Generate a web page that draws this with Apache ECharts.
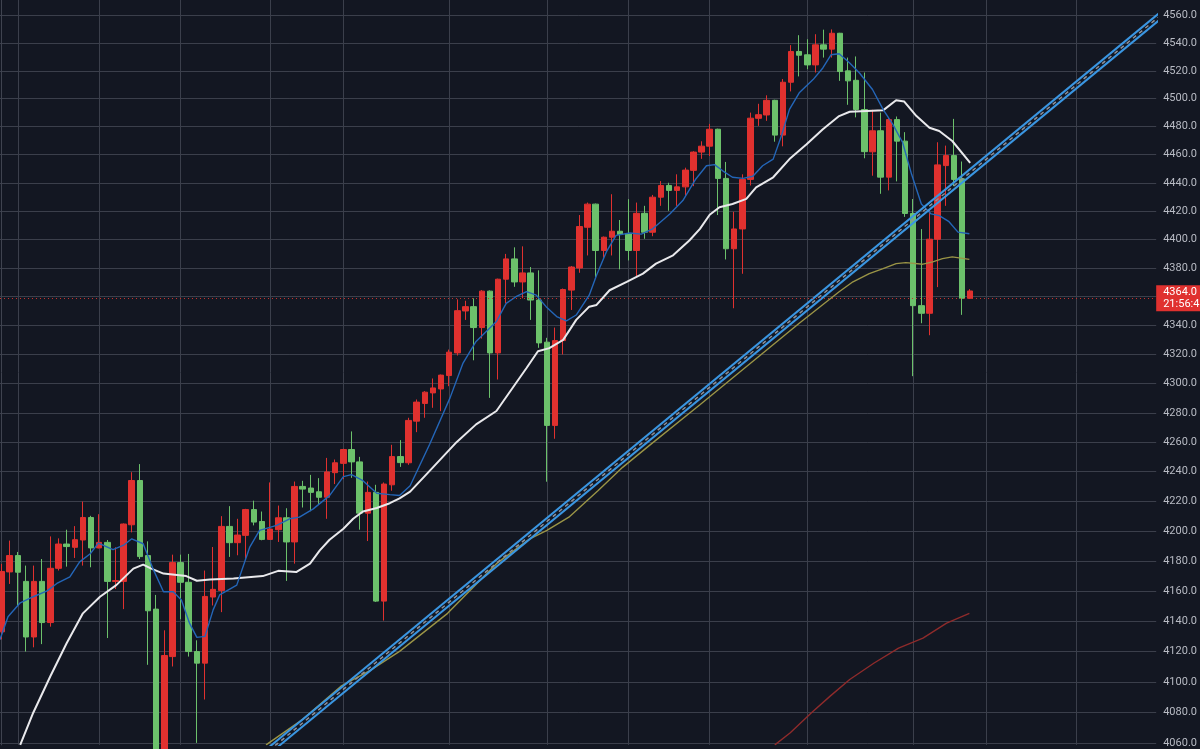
<!DOCTYPE html>
<html>
<head>
<meta charset="utf-8">
<script src="https://cdn.jsdelivr.net/npm/echarts@6.0.0/dist/echarts.min.js"></script>
<style>
html,body{margin:0;padding:0;background:#131722;}
#chart{width:1200px;height:749px;}
</style>
</head>
<body>
<div id="chart"></div>
<script>
// ---- candle data (one entry per bar, oldest first) ----
const opens = [4133,4172.7,4183.6,4166.4,4129.6,4166.4,4139.1,4175.1,4191.3,4189.1,
4194,4209.1,4188.7,4192.4,4166.4,4166.4,4204.2,4234,4183.6,4148,
4048,4116.7,4178.9,4165.8,4120,4112.4,4156,4160.4,4203.1,4192.2,
4197.1,4214.4,4206.4,4194.4,4200.9,4208.9,4192.7,4230,4228.9,4226.4,
4222.7,4239.3,4245.6,4255,4246.6,4212,4226,4153.3,4231.1,4250.2,
4246,4274.3,4286.4,4293.6,4296.3,4305.5,4321.1,4350.1,4353.1,4338.6,
4363.9,4321.1,4372.2,4386.4,4370.3,4376.6,4357.7,4328.5,4271.4,4329.6,
4364.6,4380,4408.6,4424.9,4392.3,4401.6,4405.8,4404,4392.3,4418.4,
4405.1,4429.8,4438.1,4434.6,4437.1,4448.8,4461.8,4466,4478.1,4443.1,
4393.5,4407.4,4442.4,4485.9,4488.3,4498.8,4473.9,4511.8,4534,4531.6,
4524.3,4538.8,4535.7,4547.2,4520,4513.2,4492.2,4462,4477,4444,
4485,4469.6,4418.3,4353.8,4348.5,4400.2,4452.2,4459.3,4442.8,4358.9];
const closes = [4173,4183.6,4172.5,4129.6,4166.4,4139.1,4175.1,4191.3,4189.6,4194.2,
4209.1,4188.7,4192.4,4166.4,4166.9,4204.7,4234,4182.9,4146.9,4052,
4117.4,4178.9,4165.8,4120,4112.4,4156.4,4161.1,4203.1,4192.2,4197.3,
4214.4,4206,4194.4,4201.3,4208.9,4192.7,4230,4228.2,4226,4222.7,
4239.8,4246,4255,4246.6,4212,4226,4153.3,4231.6,4250.2,4246.1,
4274.8,4287.3,4294.1,4297,4305.8,4321.6,4350.3,4353.1,4338.6,4363.9,
4321.1,4372.2,4386.4,4370.3,4376.6,4357.7,4328,4271.4,4329.6,4365,
4380.7,4409.1,4424.9,4392.3,4401.6,4405.8,4403.5,4392.3,4418.4,4405.1,
4429.8,4438.1,4434.6,4437.1,4449,4461.8,4466,4478.1,4443.1,4393.5,
4407.4,4442.4,4486,4488.5,4498.8,4473.9,4511.8,4534,4531.3,4524.3,
4538.8,4535.7,4547.2,4519.5,4512.8,4492.2,4462.1,4477,4444,4485,
4469.6,4418.3,4353.8,4348.5,4400.2,4452.7,4459.3,4442.4,4358.9,4364];
const lows = [4128,4164.7,4150,4120,4122.8,4124.9,4136.4,4173.6,4176.2,4182,
4176.9,4175.8,4188.4,4128.9,4161.3,4148,4199.1,4181.3,4111.3,4040,
4040,4110.2,4141.3,4116.7,4060.4,4088.6,4150.4,4146,4182.7,4183.8,
4180.9,4203.8,4193.8,4194,4192.7,4166.7,4178.2,4215.8,4213.3,4218.2,
4208.2,4231.6,4234.9,4235.8,4200.9,4193.3,4152.7,4140.4,4227.1,4243.2,
4244.6,4266.8,4276.6,4283.4,4281.1,4298.2,4319.3,4343.9,4316,4331,
4290.2,4302.8,4355.4,4366.9,4358.9,4343.9,4324.6,4233.2,4262.3,4320,
4350.8,4376.7,4388.8,4373.7,4387.2,4388.8,4379.1,4385.3,4373.7,4400.5,
4402.3,4423.7,4420.2,4423.7,4430,4437.6,4457,4459,4417.2,4386,
4352,4376,4438.1,4480.5,4484.1,4469.2,4465.9,4505.2,4516,4521.2,
4518.8,4529.6,4529.6,4512.8,4495.6,4486.6,4457.4,4445,4432.2,4434.6,
4441,4415.9,4305.1,4341.6,4333.3,4366.7,4423.7,4437.6,4347.4,4358.4];
const highs = [4178,4193.6,4186,4176.9,4176.9,4181.3,4196.4,4195.1,4200.9,4203.3,
4219.8,4210.2,4211.3,4194,4189.1,4205.1,4239.6,4245.1,4193.1,4157.4,
4134,4184.2,4184.2,4184.7,4127.4,4173.6,4189.3,4210,4216.7,4208.2,
4214.9,4220.4,4213.1,4232.7,4217.1,4215.3,4233.3,4233.8,4237.8,4235.6,
4249.3,4248.2,4255.5,4267.3,4250,4233.3,4231.1,4232.7,4258.2,4261.4,
4276.6,4289.1,4294.8,4303.5,4306.2,4323.4,4358.2,4357.2,4358.9,4364.6,
4364.4,4372.6,4389.9,4394.5,4395.2,4380.7,4378.4,4331.5,4338.6,4365.7,
4381.4,4417.2,4426,4425.3,4402.1,4431.9,4413.7,4428.4,4426,4423.7,
4431.4,4441.2,4440,4446,4450.7,4462.4,4469.5,4481.9,4478.5,4454.8,
4419.5,4446,4490,4496.3,4502.4,4499.2,4514.1,4538.6,4545.8,4542.9,
4546.5,4549.8,4550,4547.5,4529.6,4530.4,4518.8,4492,4490,4486.6,
4487.2,4476,4428.5,4407.3,4420.7,4468.8,4466.4,4485.5,4455.1,4365.3];

// ---- price axis ticks (log-scaled axis) ----
const priceTicks = [4060,4080,4100,4120,4140,4160,4180,4200,4220,4240,4260,4280,4300,
4320,4340,4360,4380,4400,4420,4440,4460,4480,4500,4520,4540,4560];
// bar indexes where the vertical time grid lines sit
const timeGridBars = [2,12,22,33,42,55,67,77,87,99,112,121,132];

// ---- indicator lines: [bar index, price] ----
const fastMA = [[-0.2,4127.8],[0.8,4143.0],[2.3,4152.2],[3.9,4156.2],[5.6,4160.1],[6.8,4165.0],[8.4,4169.4],[9.6,4179.4],[10.9,4184.8],[11.9,4191.9],[13.7,4187.5],[15.0,4190.5],[16.0,4194.8],[17.4,4191.5],[18.6,4174.9],[19.9,4159.5],[21.1,4159.5],[22.1,4154.0],[23.1,4138.7],[24.0,4129.3],[25.0,4130.0],[26.0,4147.5],[26.8,4157.4],[28.9,4163.9],[30.5,4189.3],[31.7,4200.4],[33.8,4203.8],[35.4,4208.2],[36.6,4209.3],[38.3,4214.9],[40.3,4223.8],[42.0,4236.6],[43.0,4238.0],[44.4,4233.9],[46.1,4225.4],[47.7,4224.5],[48.9,4223.9],[50.2,4230.5],[52.6,4258.6],[55.1,4290.2],[56.7,4314.1],[58.3,4329.0],[60.8,4342.8],[62.0,4355.4],[63.2,4360.0],[64.5,4363.5],[65.7,4361.1],[66.9,4353.1],[68.2,4346.2],[69.4,4343.2],[70.6,4347.3],[72.2,4361.1],[73.1,4375.0],[74.3,4391.3],[75.5,4402.9],[77.2,4404.6],[78.6,4403.8],[80.0,4407.5],[82.1,4418.0],[83.7,4427.4],[85.3,4442.7],[86.6,4452.1],[87.6,4452.9],[88.6,4448.5],[89.8,4443.9],[91.1,4443.1],[92.3,4444.6],[93.5,4452.1],[94.8,4456.8],[95.8,4473.3],[96.8,4492.3],[98.0,4504.2],[99.7,4513.7],[100.9,4522.1],[101.9,4531.6],[102.9,4532.4],[104.2,4525.7],[105.4,4518.5],[107.0,4506.6],[108.3,4492.3],[109.5,4481.6],[110.7,4468.6],[111.8,4446.0],[113.0,4425.0],[114.2,4418.0],[115.2,4416.8],[116.4,4412.5],[117.5,4405.2],[118.9,4404.0]];
const midMA = [[2.3,4059.1],[3.9,4080],[6.0,4103.8],[8.0,4125.5],[10.0,4145.2],[12.1,4156.2],[14.1,4163.9],[16.2,4174.9],[17.4,4177.6],[18.4,4174.9],[19.9,4171.6],[22.7,4169.9],[24.0,4166.8],[25.6,4167.7],[28.5,4168.3],[32.1,4169.9],[34.0,4173.4],[36.2,4172.6],[37.9,4178.2],[39.1,4187.1],[40.3,4194.2],[42.0,4201.5],[43.2,4208.2],[44.4,4213.1],[46.1,4215.5],[47.7,4218.7],[48.9,4222.0],[50.2,4226.5],[53.0,4242.9],[55.9,4260.0],[58.3,4272.1],[60.8,4281.2],[62.8,4297.1],[64.5,4310.7],[65.9,4322.2],[67.3,4324.4],[69.0,4330.1],[70.6,4343.9],[72.2,4353.1],[73.1,4354.3],[74.7,4364.5],[76.8,4370.4],[78.8,4376.1],[80.4,4383.1],[82.5,4388.9],[84.5,4399.3],[85.8,4407.5],[87.0,4417.4],[88.2,4422.7],[89.8,4425.0],[91.5,4428.6],[92.7,4436.8],[94.8,4443.9],[96.8,4456.8],[98.9,4467.4],[100.9,4478.1],[102.9,4487.5],[104.2,4490.6],[107.0,4491.3],[108.3,4491.6],[109.9,4498.9],[110.9,4497.9],[112.4,4487.5],[114.0,4479.2],[115.2,4476.8],[116.8,4469.7],[119.0,4454.2]];
const slowMA = [[32.5,4059.1],[37.0,4075.7],[41.7,4097.3],[45.3,4107.7],[48.9,4120.1],[54.8,4145.2],[60.8,4178.2],[64.9,4194.8],[67.0,4200.4],[69.7,4209.3],[73.3,4227.2],[76.3,4242.9],[79.6,4257.8],[85.8,4285.5],[93.1,4319.0],[98.0,4341.6],[102.9,4363.5],[104.6,4370.4],[106.6,4376.1],[108.3,4379.6],[109.9,4383.1],[111.1,4383.8],[113.2,4382.7],[114.4,4384.3],[115.6,4386.6],[116.8,4387.8],[118.9,4386.1]];
const longMA = [[95.0,4059.1],[96.9,4067.0],[99.5,4080.0],[101.8,4090.8],[104.2,4101.7],[107.2,4112.5],[110.2,4122.3],[113.2,4128.8],[116.1,4138.7],[118.9,4145.2]];

// ---- drawn trend channel anchors: [bar index, price] ----
const trendUpper = [[31.57,4052.0],[142.22,4561.8]];
const trendMiddle = [[32.09,4052.0],[142.22,4559.3]];
const trendLower = [[32.61,4052.0],[142.22,4556.75]];

const lastPrice = 4364.0;
const countdown = '21:56:4';

// ---- build chart ----
const L = Math.log;
const toLog = arr => arr.map(p => [p[0], L(p[1])]);
const candleData = opens.map((o, i) => [i, L(o), L(closes[i]), L(lows[i]), L(highs[i])]);

const UP = '#e0312f';
const DOWN = '#6cc16b';
const GRID = '#3b3f4b';

const chart = echarts.init(document.getElementById('chart'), null, {renderer: 'canvas'});
const lineBase = {type: 'line', symbol: 'none', showSymbol: false, silent: true, animation: false};

chart.setOption({
  backgroundColor: '#131722',
  animation: false,
  grid: {left: 0, right: 43, top: 0, bottom: 0, containLabel: false},
  xAxis: {
    type: 'value', min: -0.184, max: 141.85,
    axisLine: {show: false},
    axisTick: {show: false, customValues: timeGridBars},
    axisLabel: {show: false},
    splitLine: {show: true, lineStyle: {color: GRID, width: 1}}
  },
  yAxis: {
    type: 'value', position: 'right',
    min: L(4059.1), max: L(4571.4),
    axisLine: {show: true, lineStyle: {color: '#3f434f', width: 1}},
    axisTick: {show: false, customValues: priceTicks.map(L)},
    axisLabel: {
      show: true, customValues: priceTicks.map(L),
      formatter: v => Math.round(Math.exp(v)).toFixed(1),
      color: '#b8bbc4', fontSize: 11, fontFamily: 'Roboto, "Liberation Sans", sans-serif', margin: 7
    },
    splitLine: {show: true, lineStyle: {color: GRID, width: 1}}
  },
  series: [
    {
      type: 'candlestick',
      data: candleData,
      barWidth: 6,
      silent: true,
      itemStyle: {color: UP, color0: DOWN, borderColor: UP, borderColor0: DOWN, borderWidth: 1}
    },
    Object.assign({}, lineBase, {data: toLog(longMA), lineStyle: {color: '#8e2b2b', width: 1.4}}),
    Object.assign({}, lineBase, {data: toLog(slowMA), lineStyle: {color: '#9a9446', width: 1.4}}),
    Object.assign({}, lineBase, {data: toLog(midMA), lineStyle: {color: '#e9e9ec', width: 2}}),
    Object.assign({}, lineBase, {data: toLog(fastMA), lineStyle: {color: '#2466b8', width: 1.4}}),
    Object.assign({}, lineBase, {data: toLog(trendUpper), lineStyle: {color: '#3a96e2', width: 2}}),
    Object.assign({}, lineBase, {data: toLog(trendLower), lineStyle: {color: '#3a96e2', width: 2}}),
    Object.assign({}, lineBase, {data: toLog(trendMiddle), lineStyle: {color: '#8d9099', width: 1.5, type: [4, 4]}}),
    Object.assign({}, lineBase, {
      data: [], clip: false,
      markLine: {
        silent: true, symbol: ['none', 'none'], animation: false,
        lineStyle: {color: '#c9302c', width: 1, type: [1, 3]},
        label: {
          show: true, position: 'end', distance: 0,
          formatter: lastPrice.toFixed(1) + '\n' + countdown,
          backgroundColor: '#e0312f', color: '#ffffff', fontSize: 11, lineHeight: 12,
          fontFamily: 'Roboto, "Liberation Sans", sans-serif',
          padding: [1, 8, 1, 7]
        },
        data: [{yAxis: L(lastPrice)}]
      }
    })
  ]
});
</script>
</body>
</html>
